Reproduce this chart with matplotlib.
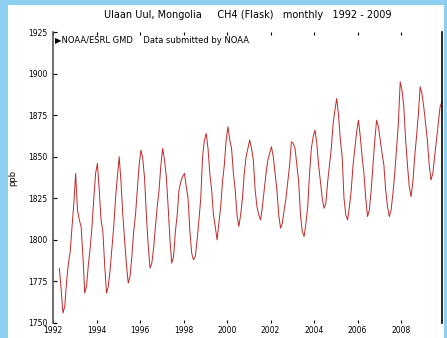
import matplotlib.pyplot as plt
import matplotlib.patches as mpatches
import numpy as np

# monthly CH4 values (ppb)
years = list(range(1992, 2010))
first_month = {1992: 4}
ch4 = {
    1992: [1783, 1770, 1756, 1760, 1775, 1786, 1793, 1808, 1822],
    1993: [1840, 1818, 1812, 1808, 1790, 1768, 1772, 1785, 1795, 1808, 1825, 1840],
    1994: [1846, 1830, 1812, 1805, 1785, 1768, 1772, 1782, 1795, 1808, 1825, 1838],
    1995: [1850, 1835, 1815, 1800, 1785, 1774, 1778, 1790, 1805, 1815, 1830, 1845],
    1996: [1854, 1849, 1837, 1815, 1797, 1783, 1786, 1795, 1808, 1820, 1830, 1845],
    1997: [1855, 1848, 1838, 1820, 1800, 1786, 1790, 1805, 1815, 1830, 1835, 1838],
    1998: [1840, 1832, 1825, 1805, 1792, 1788, 1790, 1800, 1812, 1825, 1850, 1860],
    1999: [1864, 1855, 1840, 1830, 1815, 1808, 1800, 1810, 1820, 1835, 1845, 1860],
    2000: [1868, 1860, 1855, 1840, 1830, 1815, 1808, 1815, 1825, 1840, 1850, 1855],
    2001: [1860, 1855, 1848, 1830, 1820, 1815, 1812, 1820, 1830, 1840, 1848, 1852],
    2002: [1856, 1850, 1840, 1830, 1815, 1807, 1810, 1818, 1825, 1835, 1845, 1859],
    2003: [1858, 1855, 1845, 1835, 1815, 1805, 1802, 1810, 1820, 1840, 1855, 1862],
    2004: [1866, 1858, 1845, 1835, 1825, 1819, 1822, 1835, 1845, 1855, 1870, 1878],
    2005: [1885, 1875, 1860, 1850, 1825, 1815, 1812, 1820, 1830, 1845, 1855, 1865],
    2006: [1872, 1862, 1850, 1840, 1825, 1814, 1818, 1830, 1845, 1860, 1872, 1868],
    2007: [1860, 1852, 1845, 1830, 1820, 1814, 1818, 1828, 1840, 1855, 1870, 1895],
    2008: [1890, 1880, 1860, 1845, 1832, 1826, 1835, 1850, 1862, 1875, 1892, 1888],
    2009: [1880, 1870, 1860, 1845, 1836, 1840, 1850, 1860, 1870, 1880, 1883],
}
x_ticks = [1992, 1994, 1996, 1998, 2000, 2002, 2004, 2006, 2008]
y_ticks = [1750, 1775, 1800, 1825, 1850, 1875, 1900, 1925]

t = []
v = []
for yr in years:
    m0 = first_month.get(yr, 1)
    for i, val in enumerate(ch4[yr]):
        t.append(yr + (m0 - 1 + i + 0.5) / 12.0)
        v.append(val)

fig = plt.figure(figsize=(4.47, 3.38), dpi=100)
fig.patch.set_facecolor('#8ccfee')
fig.patches.append(mpatches.Rectangle((8/447, 0), 436/447, 333/338,
                                      transform=fig.transFigure,
                                      facecolor='white', edgecolor='none', zorder=-5))

ax = fig.add_axes([53/447, 15/338, 389/447, 291/338])
ax.set_zorder(2)
ax.set_facecolor('white')
ax.plot(t, v, color='#c02828', lw=0.7)

ax.set_xlim(1992, 2009.88)
ax.set_ylim(1750, 1925)
ax.set_xticks(x_ticks)
ax.set_xticklabels([str(x) for x in x_ticks])
ax.set_yticks(y_ticks)
ax.tick_params(labelsize=5.5, length=3, width=0.8, direction='in', pad=4)
ax.tick_params(axis='x', top=True, length=2, pad=2)
ax.spines['top'].set_visible(False)
ax.spines['bottom'].set_visible(False)
ax.spines['left'].set_color('#555555')
ax.spines['left'].set_linewidth(1.2)
ax.spines['right'].set_linewidth(1.2)
ax.set_ylabel('ppb', fontsize=6, labelpad=8)

fig.text(0.555, 0.955, 'Ulaan Uul, Mongolia     CH4 (Flask)   monthly   1992 - 2009',
         ha='center', va='center', fontsize=7, zorder=3)
ax.text(0.005, 0.985, u'\u25b6NOAA/ESRL GMD    Data submitted by NOAA',
        transform=ax.transAxes, ha='left', va='top', fontsize=6)

plt.savefig('out.png', dpi=100, facecolor=fig.get_facecolor())
